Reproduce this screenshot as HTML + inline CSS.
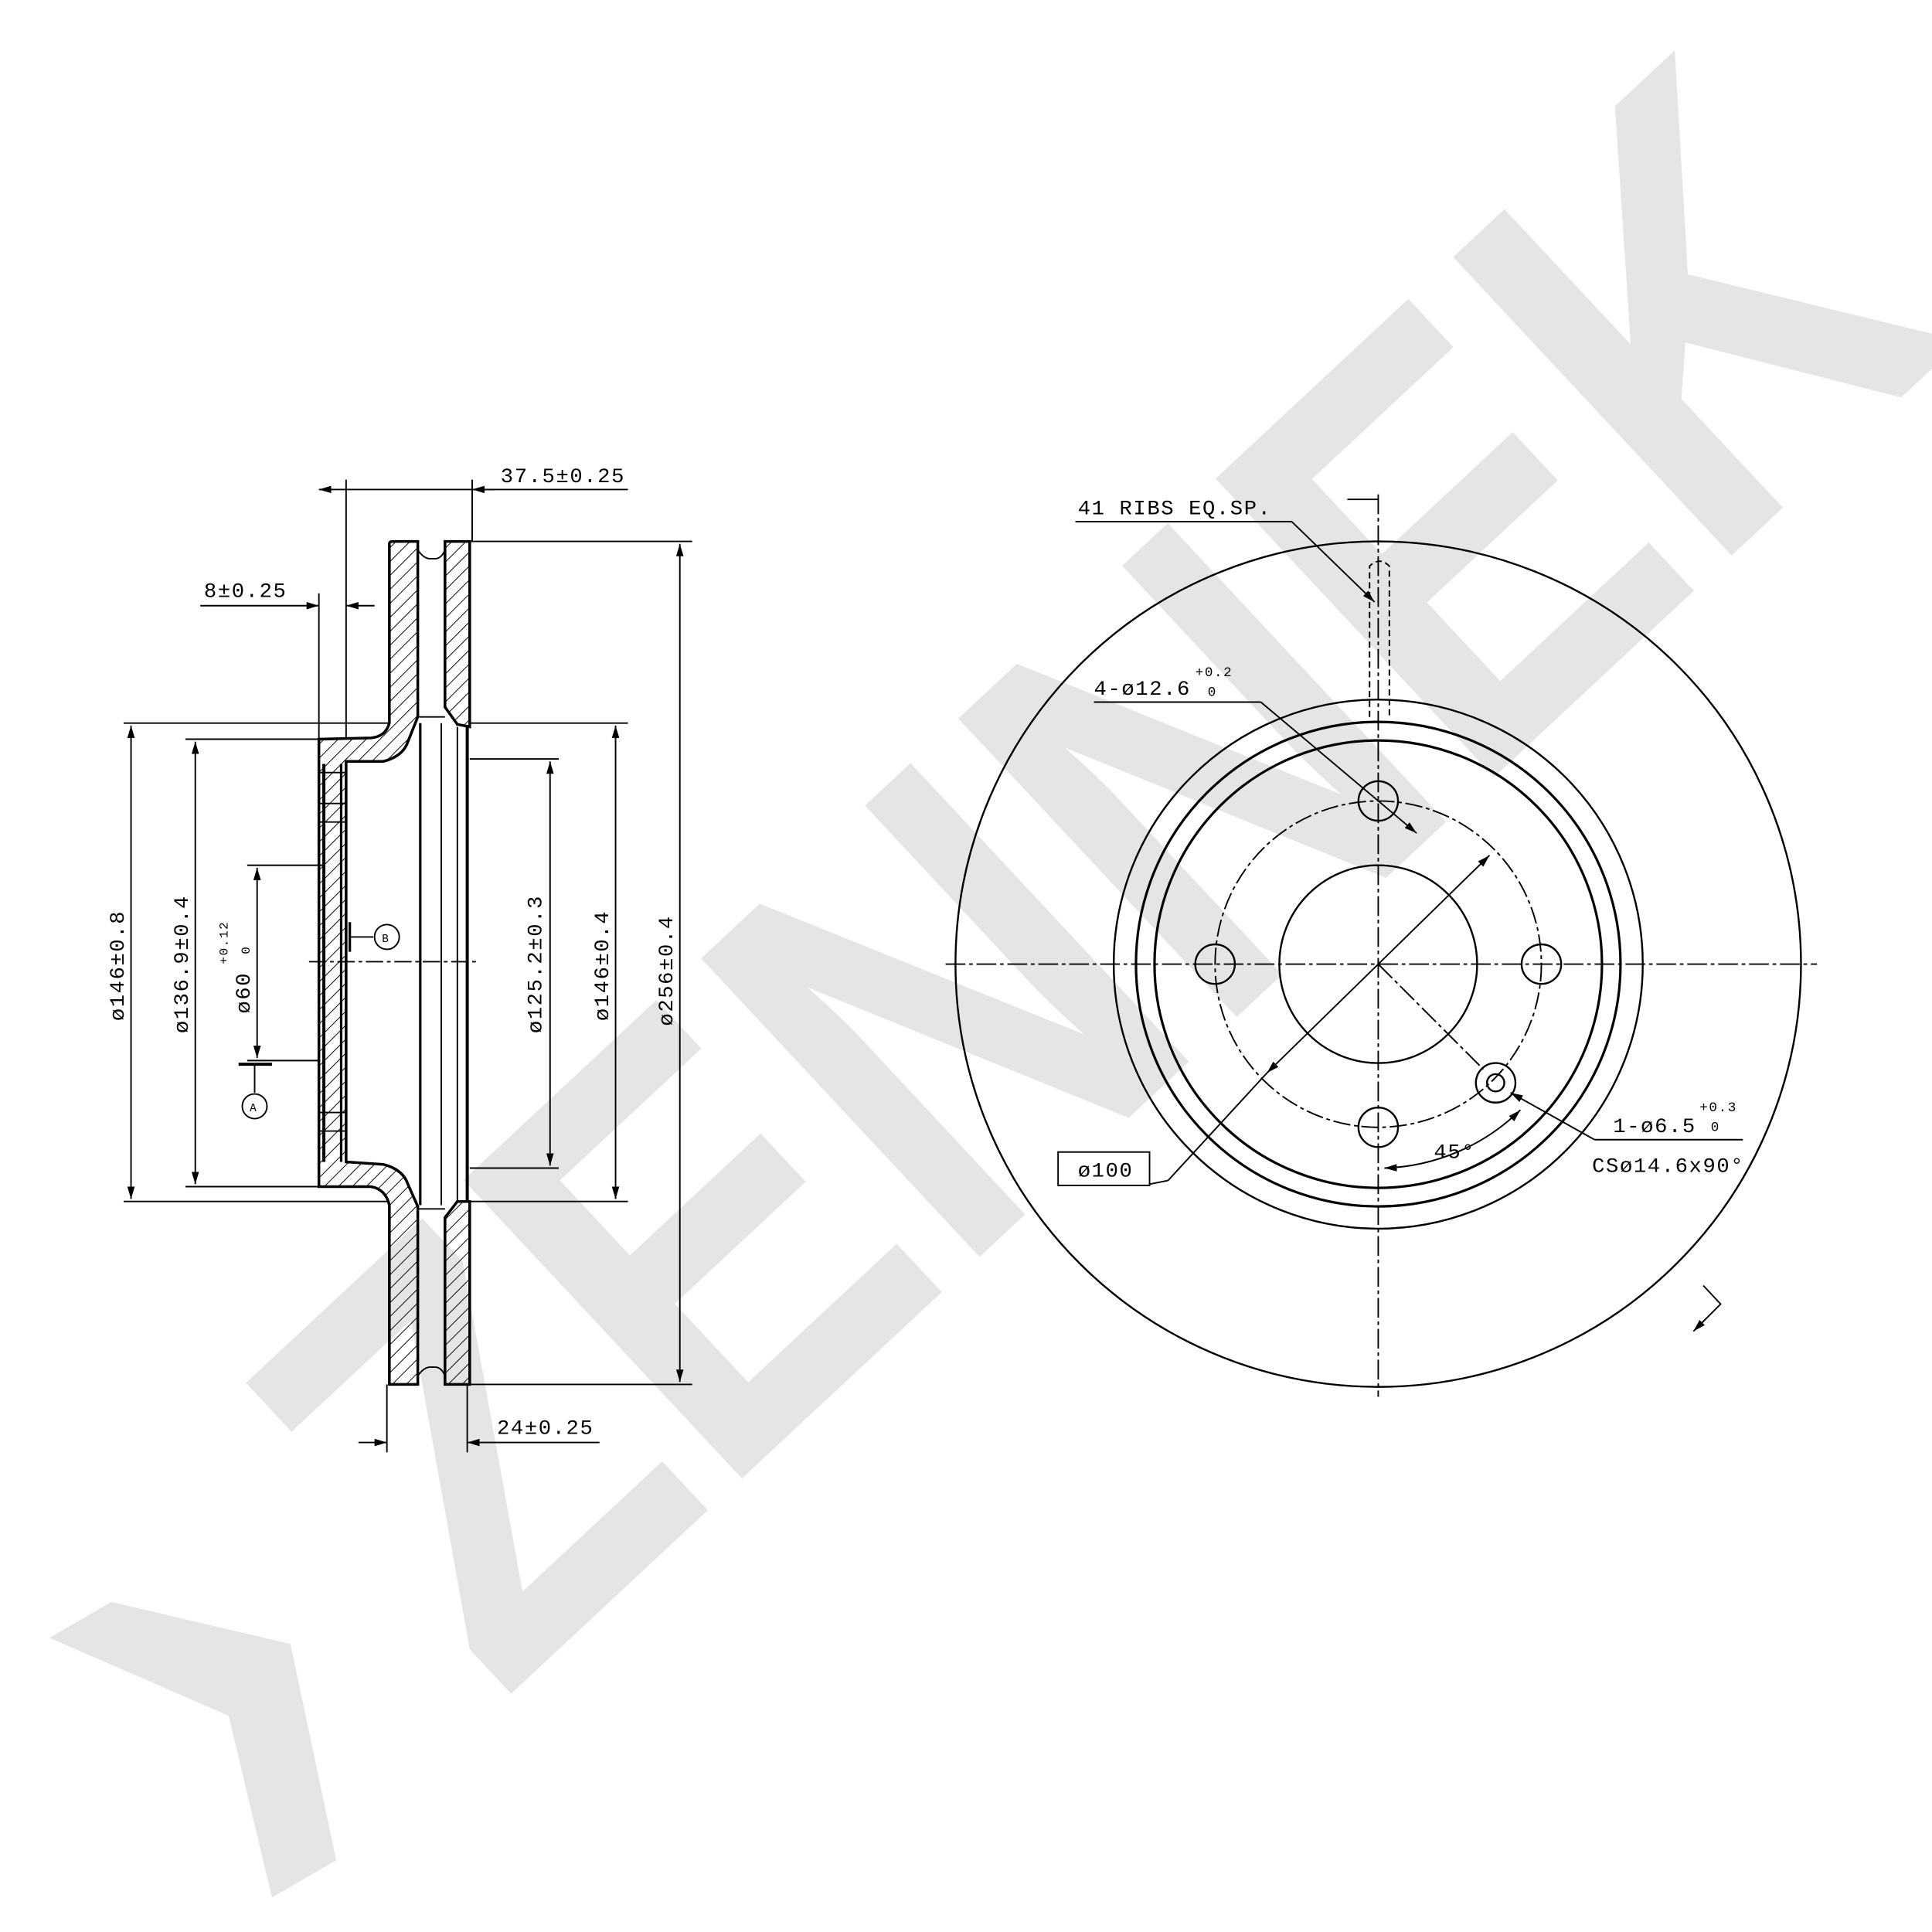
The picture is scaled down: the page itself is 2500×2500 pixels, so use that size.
<!DOCTYPE html>
<html><head><meta charset="utf-8"><style>html,body{margin:0;padding:0;background:#fff}svg{display:block}</style></head>
<body>
<svg width="2500" height="2500" viewBox="0 0 1563 1563" xmlns="http://www.w3.org/2000/svg">
<defs>
<pattern id="h" patternUnits="userSpaceOnUse" width="8" height="8" patternTransform="rotate(45)">
<line x1="0" y1="0" x2="0" y2="8" stroke="#000" stroke-width="1.2"/>
</pattern>
<marker id="a" viewBox="0 0 10 6" refX="10" refY="3" markerWidth="10" markerHeight="6" orient="auto-start-reverse" markerUnits="userSpaceOnUse"><path d="M0,0 L10,3 L0,6 Z" fill="#000"/></marker>
</defs>
<rect width="1563" height="1563" fill="#fff"/>
<!-- watermark -->
<g fill="#e5e5e5">
<polygon points="40,1325 90,1296 235,1330 272,1505 220,1535 185,1388"/>
<text x="880" y="872" transform="rotate(-43 880 700)" text-anchor="middle" font-family="Liberation Sans, sans-serif" font-weight="bold" font-size="480" textLength="1620" lengthAdjust="spacingAndGlyphs">ZENNEK</text>
</g>

<g stroke="#000" fill="none" stroke-width="1.2" font-family="Liberation Mono, monospace">
<!-- LEFT SECTION -->
<path d="M315,440 Q315,438 318,438 L338,438 L338,580 L330,600 Q326,612 310,616 L280,616 L280,940 L310,942 Q326,946 330,958 L338,976 L338,1120 L315,1120 L315,975 Q312,962 300,960 L258,960 L258,598 L300,597 Q312,596 315,585 Z" fill="url(#h)" stroke-width="2.2"/>
<path d="M360,438 L380,438 L380,588 L370,586 L360,572 Z" fill="url(#h)" stroke-width="2.2"/>
<path d="M360,1120 L380,1120 L380,972 L370,972 L360,985 Z" fill="url(#h)" stroke-width="2.2"/>
<!-- notches -->
<path d="M338,445 Q343,452 348,452 L352,452 Q357,452 360,445"/>
<path d="M338,1113 Q343,1106 348,1106 L352,1106 Q357,1106 360,1113"/>
<!-- hub inner lines -->
<line x1="262" y1="618" x2="262" y2="940" stroke-width="2.5"/>
<line x1="276" y1="618" x2="276" y2="940" stroke-width="2"/>
<line x1="258" y1="625" x2="280" y2="625"/><line x1="258" y1="650" x2="280" y2="650"/><line x1="258" y1="665" x2="280" y2="665"/>
<line x1="258" y1="900" x2="280" y2="900"/><line x1="258" y1="915" x2="280" y2="915"/>
<line x1="258" y1="700" x2="262" y2="700"/>
<!-- vent lines -->
<line x1="340" y1="585" x2="340" y2="975" stroke-width="2"/>
<line x1="357" y1="585" x2="357" y2="975"/>
<line x1="370" y1="588" x2="370" y2="972"/>
<line x1="378" y1="588" x2="378" y2="972" stroke-width="2.5"/>
<line x1="338" y1="580" x2="360" y2="580"/><line x1="338" y1="978" x2="360" y2="978"/>
<!-- centerline -->
<line x1="250" y1="778" x2="385" y2="778" stroke-dasharray="14,3,3,3"/>
<!-- dimension ext lines -->
<line x1="100" y1="585" x2="315" y2="585"/>
<line x1="100" y1="972" x2="315" y2="972"/>
<line x1="150" y1="598" x2="258" y2="598"/>
<line x1="150" y1="960" x2="258" y2="960"/>
<line x1="200" y1="700" x2="258" y2="700"/>
<line x1="200" y1="858" x2="258" y2="858"/>
<line x1="380" y1="614" x2="452" y2="614"/>
<line x1="380" y1="945" x2="452" y2="945"/>
<line x1="380" y1="585" x2="508" y2="585"/>
<line x1="380" y1="972" x2="508" y2="972"/>
<line x1="380" y1="438" x2="560" y2="438"/>
<line x1="380" y1="1120" x2="560" y2="1120"/>
<line x1="280" y1="388" x2="280" y2="598"/>
<line x1="382" y1="388" x2="382" y2="438"/>
<line x1="258" y1="480" x2="258" y2="598"/>
<line x1="313" y1="1120" x2="313" y2="1175"/>
<line x1="378" y1="1120" x2="378" y2="1175"/>
<!-- dims -->
<line x1="106" y1="587" x2="106" y2="970" marker-start="url(#a)" marker-end="url(#a)"/>
<line x1="158" y1="600" x2="158" y2="958" marker-start="url(#a)" marker-end="url(#a)"/>
<line x1="208" y1="702" x2="208" y2="856" marker-start="url(#a)" marker-end="url(#a)"/>
<line x1="445" y1="616" x2="445" y2="943" marker-start="url(#a)" marker-end="url(#a)"/>
<line x1="498" y1="587" x2="498" y2="970" marker-start="url(#a)" marker-end="url(#a)"/>
<line x1="550" y1="440" x2="550" y2="1118" marker-start="url(#a)" marker-end="url(#a)"/>
<line x1="258" y1="396" x2="280" y2="396" marker-start="url(#a)" marker-end="none" />
<line x1="280" y1="396" x2="508" y2="396"/>
<line x1="382" y1="396" x2="400" y2="396" marker-start="url(#a)"/>
<line x1="162" y1="490" x2="258" y2="490" marker-end="url(#a)"/>
<line x1="280" y1="490" x2="303" y2="490" marker-start="url(#a)"/>
<line x1="290" y1="1167" x2="313" y2="1167" marker-end="url(#a)"/>
<line x1="378" y1="1167" x2="485" y2="1167" marker-start="url(#a)"/>
<!-- datum -->
<line x1="283" y1="746" x2="283" y2="770" stroke-width="2"/><line x1="283" y1="758" x2="302" y2="758"/>
<circle cx="313" cy="758" r="10"/>
<line x1="193" y1="861" x2="220" y2="861" stroke-width="2.5"/><line x1="206" y1="861" x2="206" y2="884"/>
<circle cx="206" cy="895" r="10"/>
<g fill="#000" stroke="none" font-size="17" letter-spacing="1">
<text x="405" y="390">37.5±0.25</text>
<text x="165" y="483">8±0.25</text>
<text x="402" y="1160">24±0.25</text>
<text font-size="9" x="309" y="762">B</text>
<text font-size="9" x="202" y="899">A</text>
<text transform="translate(100,826) rotate(-90)">ø146±0.8</text>
<text transform="translate(152,836) rotate(-90)">ø136.9±0.4</text>
<text transform="translate(202,820) rotate(-90)">ø60</text>
<text font-size="10" transform="translate(184,780) rotate(-90)">+0.12</text>
<text font-size="10" transform="translate(202,772) rotate(-90)">0</text>
<text transform="translate(438,836) rotate(-90)">ø125.2±0.3</text>
<text transform="translate(492,826) rotate(-90)">ø146±0.4</text>
<text transform="translate(544,830) rotate(-90)">ø256±0.4</text>
</g>

<!-- RIGHT VIEW -->
<circle cx="1115" cy="780" r="342" stroke-width="1.5"/>
<circle cx="1115" cy="780" r="214" stroke-width="1.5"/>
<circle cx="1115" cy="780" r="196" stroke-width="2"/>
<circle cx="1115" cy="780" r="181" stroke-width="2"/>
<circle cx="1115" cy="780" r="80" stroke-width="1.5"/>
<circle cx="1115" cy="780" r="132" stroke-dasharray="14,3,3,3"/>
<circle cx="983" cy="780" r="16" stroke-width="1.5"/>
<circle cx="1247" cy="780" r="16" stroke-width="1.5"/>
<circle cx="1115" cy="648" r="16" stroke-width="1.5"/>
<circle cx="1115" cy="912" r="16" stroke-width="1.5"/>
<circle cx="1210" cy="876" r="16" stroke-width="1.5"/>
<circle cx="1210" cy="876" r="7" stroke-width="1.5"/>
<line x1="765" y1="780" x2="1470" y2="780" stroke-dasharray="16,3,3,3"/>
<line x1="1115" y1="400" x2="1115" y2="1130" stroke-dasharray="16,3,3,3"/>
<line x1="1115" y1="780" x2="1200" y2="865" stroke-dasharray="16,3,3,3"/>
<!-- rib slot -->
<path d="M1108,580 L1108,458 Q1116,450 1124,458 L1124,580" stroke-dasharray="5,3"/>
<line x1="1090" y1="404" x2="1115" y2="404"/>
<line x1="870" y1="422" x2="1045" y2="422"/>
<line x1="1045" y1="422" x2="1112" y2="487" marker-end="url(#a)"/>
<line x1="885" y1="568" x2="1020" y2="568"/>
<line x1="1020" y1="568" x2="1146" y2="674" marker-end="url(#a)"/>
<line x1="1205" y1="692" x2="1025" y2="868" marker-start="url(#a)" marker-end="url(#a)"/>
<line x1="1025" y1="868" x2="945" y2="955"/>
<rect x="856" y="932" width="74" height="27"/>
<line x1="930" y1="958" x2="945" y2="955"/>
<line x1="1290" y1="922" x2="1410" y2="922"/>
<line x1="1290" y1="922" x2="1222" y2="884" marker-end="url(#a)"/>
<path d="M1120,945 A165,165 0 0 0 1230,898" marker-start="url(#a)" marker-end="url(#a)"/>
<path d="M1378,1040 L1392,1055 L1370,1077" marker-end="url(#a)"/>
<g fill="#000" stroke="none" font-size="17" letter-spacing="1">
<text x="872" y="416">41 RIBS EQ.SP.</text>
<text x="885" y="562">4-ø12.6</text>
<text font-size="11" x="967" y="547">+0.2</text>
<text font-size="11" x="977" y="563">0</text>
<text x="1305" y="916">1-ø6.5</text>
<text font-size="11" x="1375" y="899">+0.3</text>
<text font-size="11" x="1384" y="915">0</text>
<text x="1288" y="948">CSø14.6x90°</text>
<text x="1160" y="937">45°</text>
<text x="872" y="952">ø100</text>
</g>
</g>
</svg>
</body></html>
